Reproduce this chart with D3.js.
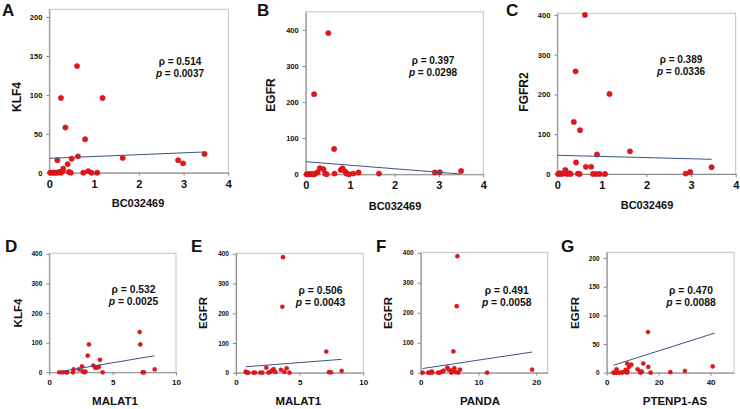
<!DOCTYPE html>
<html><head><meta charset="utf-8">
<script src="https://cdn.jsdelivr.net/npm/d3@7"></script>
<style>
body{margin:0;background:#fff;}
text{font-family:"Liberation Sans",Arial,sans-serif;font-weight:bold;fill:#111;}
</style></head>
<body><svg id="c" width="740" height="409"></svg>
<script>
// ---- data ----
const panelLetters = ["A","B","C","D","E","F","G"];
const xTitles = ["BC032469","BC032469","BC032469","MALAT1","MALAT1","PANDA","PTENP1-AS"];
const yTitles = ["KLF4","EGFR","FGFR2","KLF4","EGFR","EGFR","EGFR"];
const rhoValues = ["0.514","0.397","0.389","0.532","0.506","0.491","0.470"];
const pValues = ["0.0037","0.0298","0.0336","0.0025","0.0043","0.0058","0.0088"];
const xDomains = [[0,4],[0,4],[0,4],[0,10],[0,10],[0,22],[0,49]];
const yDomains = [[0,210],[0,450],[0,404],[0,402],[0,402],[0,402],[0,210]];
const xTickValues = [[0,1,2,3,4],[0,1,2,3,4],[0,1,2,3,4],[0,5,10],[0,5,10],[0,10,20],[0,20,40]];
const yTickValues = [[0,50,100,150,200],[0,100,200,300,400],[0,100,200,300,400],[0,100,200,300,400],[0,100,200,300,400],[0,100,200,300,400],[0,50,100,150,200]];

const aX = [0.02,0.06,0.10,0.14,0.18,0.22,0.26,0.30,0.18,0.26,0.31,0.36,0.41,0.44,0.48,0.50,0.62,0.64,0.76,0.80,0.87,0.94,1.07,1.19,1.64,2.88,2.99,3.47];
const aY = [0,0,0,0,0,1,0,2,16,96,5,58,11,1,0,18,137,21,0,43,2,0,0,96,19,16,12,24];
const bX = [0.02,0.05,0.08,0.12,0.15,0.19,0.22,0.27,0.19,0.32,0.40,0.44,0.47,0.51,0.64,0.65,0.79,0.83,0.89,0.92,0.97,1.07,1.19,1.65,2.91,3.02,3.50];
const bY = [0,0,0,1,0,0,2,6,222,17,14,2,0,391,70,2,12,16,7,2,0,2,5,2,5,6,9];
const cX = [0.02,0.05,0.09,0.13,0.18,0.22,0.26,0.30,0.37,0.41,0.42,0.46,0.50,0.51,0.62,0.64,0.76,0.80,0.87,0.89,0.95,1.07,1.17,1.63,2.88,2.98,3.46];
const cY = [0,2,0,1,10,0,2,0,131,258,29,1,0,110,400,18,18,0,0,49,0,0,201,57,1,5,17];
const dX = [0.79,1.05,1.32,1.42,1.87,1.92,2.34,2.58,2.64,2.76,2.86,3.03,3.13,3.47,3.63,3.76,3.92,4.00,4.21,7.13,7.18,7.37,7.47,8.32];
const dY = [0,0,0,0,0,10,10,20,3,0,2,56,94,23,15,16,18,42,0,136,94,0,0,10];
const eX = [0.76,0.85,0.97,1.37,1.50,1.90,2.07,2.38,2.55,2.70,2.85,2.96,3.10,3.53,3.64,3.69,3.80,3.98,4.20,7.09,7.30,7.46,8.30];
const eY = [4,0,0,0,0,0,0,17,0,3,8,12,2,10,222,389,3,15,0,71,2,1,6];
const fX = [0.35,1.3,1.6,1.9,2.0,3.0,3.3,3.7,4.0,4.62,4.86,5.3,5.5,5.66,5.84,6.0,6.24,6.36,6.5,6.8,11.5,19.3];
const fY = [0,0,0,4,0,0,0,4,7,17,10,0,8,71,15,2,222,389,0,10,0,10];
const gX = [2.6,3.2,3.8,3.9,4.8,5.8,6.3,7.3,7.9,7.8,8.0,8.6,9.5,11.9,12.9,13.0,13.5,14.1,15.9,16.0,16.9,24.5,30.1,40.8];
const gY = [0,0,6,0,0,0,1,5,16,0,3,10,14,6,2,0,2,16,71,10,0,1,3,11];
const pointsX = [aX,bX,cX,dX,eX,fX,gX];
const pointsY = [aY,bY,cY,dY,eY,fY,gY];
// trend line end points (x0,y0,x1,y1) as drawn in the reference
const fitLines = [[0,18.5,3.46,26.6],[0,35,3.47,1],[0,47,3.46,37],[0.97,3,8.3,56],[0.76,20,8.3,45],[0.35,14,19.3,69],[2.6,13,41.5,69]];

// ---- layout ----
const rowTop = {xFs:11,yFs:7.5,titleFs:11,yTitleFs:12,annFs:10,r:2.7,xLabOff:15,annDy:11.5};
const rowBot = {xFs:8,yFs:6.5,titleFs:11.5,yTitleFs:11.5,annFs:10.3,r:2.1,xLabOff:12.5,annDy:11.7};
const layout = [
 {L:49.3,R:228.3,B:172.7,T:9.3,s:rowTop,letter:[2,15.5],xt:[138,207],yt:[16.7,97],ann:[180,65]},
 {L:305.7,R:483.3,B:174.3,T:11.8,s:rowTop,letter:[257,15.5],xt:[395,210],yt:[271,95],ann:[433,64.3]},
 {L:557.3,R:735.7,B:174,T:13.3,s:rowTop,letter:[506,15.5],xt:[647,209],yt:[523.3,92],ann:[681,63.3]},
 {L:49.3,R:176,B:372.3,T:253.3,s:rowBot,letter:[5,251.7],xt:[115,405],yt:[18.3,313],ann:[133.5,293.3]},
 {L:236,R:363.3,B:372.7,T:253.3,s:rowBot,letter:[191,251.7],xt:[298.3,405],yt:[203.3,313],ann:[320.5,294.3]},
 {L:420.7,R:547.7,B:372.7,T:252.3,s:rowBot,letter:[376,251.7],xt:[480,405],yt:[388.3,313],ann:[506.7,294.3]},
 {L:606.7,R:734,B:372.7,T:252.3,s:rowBot,letter:[561,251.7],xt:[675,405],yt:[575,313],ann:[691,294]}
];

const svg = d3.select("#c");
const fmt = d3.format("d");
layout.forEach((lo,i)=>{
  const s = lo.s;
  const x = d3.scaleLinear().domain(xDomains[i]).range([lo.L,lo.R]);
  const y = d3.scaleLinear().domain(yDomains[i]).range([lo.B,lo.T]);
  const g = svg.append("g");
  g.append("rect").attr("x",lo.L).attr("y",lo.T).attr("width",lo.R-lo.L).attr("height",lo.B-lo.T)
    .attr("fill","none").attr("stroke","#c4c4c4").attr("stroke-width",1);
  const xa = g.append("g").attr("transform",`translate(0,${lo.B})`)
    .call(d3.axisBottom(x).tickValues(xTickValues[i]).tickFormat(fmt).tickSize(3).tickSizeOuter(0).tickPadding(s.xLabOff-3-0.71*s.xFs));
  const ya = g.append("g").attr("transform",`translate(${lo.L},0)`)
    .call(d3.axisLeft(y).tickValues(yTickValues[i]).tickFormat(fmt).tickSize(3).tickSizeOuter(0).tickPadding(4));
  xa.selectAll("text").style("font-size",s.xFs+"px").attr("fill","#111");
  ya.selectAll("text").style("font-size",s.yFs+"px").attr("fill","#111");
  [xa,ya].forEach(a=>{a.select(".domain").attr("stroke","#8a8a8a");a.selectAll(".tick line").attr("stroke","#8a8a8a");});
  g.selectAll("circle").data(pointsX[i].map((v,k)=>[v,pointsY[i][k]])).join("circle")
    .attr("cx",d=>x(d[0])).attr("cy",d=>y(d[1])).attr("r",s.r)
    .attr("fill","#e3161b").attr("stroke","#c40f12").attr("stroke-width",0.4);
  const f = fitLines[i];
  g.append("line").attr("x1",x(f[0])).attr("y1",y(f[1])).attr("x2",x(f[2])).attr("y2",y(f[3]))
    .attr("stroke","#3b5486").attr("stroke-width",1);
  g.append("text").attr("x",lo.letter[0]).attr("y",lo.letter[1]).style("font-size","17px").text(panelLetters[i]);
  g.append("text").attr("x",lo.xt[0]).attr("y",lo.xt[1]).attr("text-anchor","middle").style("font-size",s.titleFs+"px").text(xTitles[i]);
  g.append("text").attr("transform",`translate(${lo.yt[0]},${lo.yt[1]}) rotate(-90)`).attr("text-anchor","middle")
    .attr("dy","0.36em").style("font-size",s.yTitleFs+"px").text(yTitles[i]);
  g.append("text").attr("x",lo.ann[0]).attr("y",lo.ann[1]).attr("text-anchor","middle").style("font-size",s.annFs+"px")
    .text("\u03c1 = "+rhoValues[i]);
  const t2 = g.append("text").attr("x",lo.ann[0]).attr("y",lo.ann[1]+s.annDy).attr("text-anchor","middle").style("font-size",s.annFs+"px");
  t2.append("tspan").style("font-style","italic").text("p");
  t2.append("tspan").text(" = "+pValues[i]);
});
</script></body></html>
